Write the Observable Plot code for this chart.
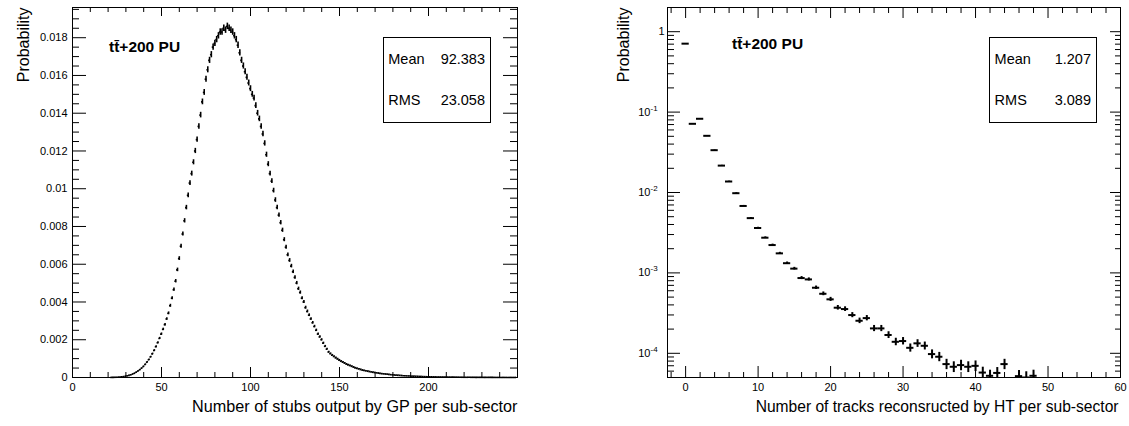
<!DOCTYPE html>
<html><head><meta charset="utf-8">
<script src="https://cdn.jsdelivr.net/npm/d3@7"></script>
<script src="https://cdn.jsdelivr.net/npm/@observablehq/plot@0.6"></script>
<style>
body{margin:0;background:#fff;}
#wrap{position:relative;width:1129px;height:426px;font-family:"Liberation Sans",Arial,Helvetica,sans-serif;background:#fff;}
.panel{position:absolute;top:0;}
.stats{position:absolute;border:1px solid #000;background:#fff;box-sizing:border-box;font-size:14.5px;color:#000;}
.row{position:absolute;display:flex;justify-content:space-between;line-height:14.5px;}
</style></head><body><div id="wrap"></div><script>
// ---------- data ----------
const entries = 630000; // histogram entries (statistical error bars)
const stubStart = 22;   // first filled bin of the left histogram
const stubProb = [
0.000005,0.000007,0.00001,0.000014,0.00002,0.000028,0.000038,0.00005,
0.000066,0.000086,0.00011,0.00014,0.00018,0.00022,0.00028,0.00034,0.00041,0.00049,
0.00058,0.00069,0.00081,0.00094,0.00109,0.00125,0.00143,0.00163,0.00184,0.00207,
0.0023,0.00255,0.0028,0.0031,0.0034,0.0038,0.0042,0.00465,0.0051,0.0057,
0.0063,0.00695,0.0076,0.0083,0.0090,0.00965,0.0103,0.0108,0.0114,0.0120,
0.0126,0.0133,0.0139,0.0146,0.0151,0.0158,0.0163,0.0168,0.0171,0.0175,
0.0177,0.0179,0.0181,0.0183,0.0183,0.0185,0.0184,0.0186,0.0185,0.0184,
0.0183,0.0181,0.0179,0.0176,0.0172,0.0168,0.0165,0.0162,0.0159,0.0156,
0.0153,0.0150,0.0148,0.0144,0.0140,0.0137,0.0133,0.0129,0.0124,0.0118,
0.0113,0.0108,0.0104,0.0099,0.0094,0.0090,0.0086,0.0082,0.0078,0.0073,
0.0069,0.0065,0.0062,0.0059,0.0056,0.0053,0.0050,0.0047,0.0045,0.0042,
0.0040,0.0037,0.0035,0.0033,0.0031,0.0029,0.0027,0.0025,0.0023,0.00215,
0.0020,0.00182,0.00165,0.0015,0.00135,0.00126,0.00118,0.00111,0.00104,0.00098,
0.00092,0.00086,0.00081,0.00076,0.00071,0.00067,0.00063,0.00059,0.00055,0.00051,
0.00048,0.00045,0.00042,0.00039,0.00037,0.00035,0.00033,0.00031,0.00029,0.000275,
0.00026,0.000245,0.00023,0.000215,0.0002,0.00019,0.00018,0.00017,0.00016,0.00015,
0.00014,0.00013,0.00012,0.000115,0.00011,0.0001,0.000095,0.00009,0.000085,0.00008,
0.000075,0.00007,0.000066,0.000062,0.000058,0.000055,0.000052,0.000049,0.000046,0.000043,
0.00004,0.000038,0.000036,0.000034,0.000032,0.00003,0.000028,0.000027,0.000025,0.000024,
0.000022,0.000021,0.00002,0.000019,0.000018,0.000017,0.000016,0.000015,0.000014,0.000013,
0.000012,0.000012,0.000011,0.00001,0.00001,0.000009,0.000009,0.000008,0.000008,0.000007,
0.000007,0.000006,0.000006,0.000006,0.000005,0.000005,0.000005,0.000004,0.000004,0.000004,
0.000004,0.000003,0.000003,0.000003,0.000003,0.000003,0.000002,0.000002,0.000002,0.000002
];
const trackBins = [0,1,2,3,4,5,6,7,8,9,10,11,12,13,14,15,16,17,18,19,20,21,22,23,24,25,26,27,28,29,30,31,32,33,34,35,36,37,38,39,40,41,42,43,44,46,47,48];
const trackProb = [0.71,0.0715,0.0826,0.0507,0.0336,0.0216,0.0137,0.0098,0.0068,0.0048,
0.00362,0.00274,0.00222,0.00175,0.00132,0.00113,0.000863,0.00083,0.000654,0.00055,
0.000469,0.000369,0.000355,0.000299,0.000254,0.000274,0.000204,0.000204,0.000169,0.000139,
0.000142,0.000117,0.000133,0.000124,0.0000978,0.0000906,0.0000734,0.000068,0.0000713,0.000068,
0.0000698,0.0000576,0.0000525,0.000057,0.0000734,0.000052,0.00005,0.0000525];

const sampleLabel = "tt\u0304+200 PU";
const statNames = ["Mean","RMS"];
const statsLeft = ["92.383","23.058"];
const statsRight = ["1.207","3.089"];
const xTitleLeft = "Number of stubs output by GP per sub-sector";
const xTitleRight = "Number of tracks reconsructed by HT per sub-sector";
const yTitle = "Probability";

const xMajorL = [0,50,100,150,200];
const yMajorL = [0,0.002,0.004,0.006,0.008,0.01,0.012,0.014,0.016,0.018];
const xMajorR = [0,10,20,30,40,50,60];
const yDecadesR = [1e-4,1e-3,1e-2,1e-1];
const yDecadeExp = ["-4","-3","-2","-1"];

// ---------- derived tables ----------
const stubs = stubProb.map((p,i)=>({bin: stubStart+i, p, err: Math.sqrt(p/entries)}));
const tracks = trackBins.map((b,i)=>({bin: b, p: trackProb[i], err: Math.sqrt(trackProb[i]/entries)}));
const xMinorL = d3.range(10,250,10).filter(v=>v%50!==0);
const yMinorL = d3.range(1,40).map(k=>k*0.0005).filter(v=>Math.round(v*10000)%20!==0);
const xMinorR = d3.range(-2,60,2).filter(v=>v%10!==0);
const yMinorR = [];
for (const e of [-5,-4,-3,-2,-1,0]) for (let k=2;k<=9;k++){const v=k*Math.pow(10,e); if(v>=5e-5 && v<=2) yMinorR.push(v);}
const yMajorR = [1e-4,1e-3,1e-2,1e-1,1];

const style = {fontFamily:'"Liberation Sans",Arial,Helvetica,sans-serif', fontSize:"11px", color:"#000", background:"transparent", overflow:"visible"};

function ticks(xs, ys, innerW, innerH, t){
  const m = [];
  m.push(Plot.tickX(xs.major,{x:d=>d, insetTop: innerH - t.xMaj, stroke:"#000"}));
  m.push(Plot.tickX(xs.minor,{x:d=>d, insetTop: innerH - t.xMin, stroke:"#000"}));
  m.push(Plot.tickX(xs.major,{x:d=>d, insetBottom: innerH - t.xMajTop, stroke:"#000"}));
  m.push(Plot.tickX(xs.minor,{x:d=>d, insetBottom: innerH - t.xMinTop, stroke:"#000"}));
  m.push(Plot.tickY(ys.major,{y:d=>d, insetRight: innerW - t.yMaj, stroke:"#000"}));
  m.push(Plot.tickY(ys.minor,{y:d=>d, insetRight: innerW - t.yMin, stroke:"#000"}));
  m.push(Plot.tickY(ys.major,{y:d=>d, insetLeft: innerW - t.yMajR, stroke:"#000"}));
  m.push(Plot.tickY(ys.minor,{y:d=>d, insetLeft: innerW - t.yMinR, stroke:"#000"}));
  return m;
}

const H = 426, MT = 7, MB = 49;
// ---------- left ----------
const WL = 564, MLL = 72, MRL = 47;
const left = Plot.plot({
  width: WL, height: H, marginLeft: MLL, marginRight: MRL, marginTop: MT, marginBottom: MB,
  style,
  x: {domain:[0,250], axis:null},
  y: {domain:[0,0.0196], axis:null},
  marks: [
    ...ticks({major:xMajorL, minor:xMinorL},{major:yMajorL, minor:yMinorL}, WL-MLL-MRL, H-MT-MB,
      {xMaj:10, xMin:5, xMajTop:9, xMinTop:5, yMaj:14, yMin:7, yMajR:14, yMinR:7}),
    Plot.ruleY(stubs,{y:"p", x1:d=>d.bin-0.5, x2:d=>d.bin+0.5, strokeWidth:1.6, stroke:"#000"}),
    Plot.ruleX(stubs,{x:"bin", y1:d=>d.p-d.err, y2:d=>d.p+d.err, strokeWidth:1.6, stroke:"#000"}),
    Plot.frame({stroke:"#000"}),
    Plot.axisX(xMajorL,{tickSize:0, tickPadding:6, label:null, fontSize:11, tickFormat:d=>String(d)}),
    Plot.axisY(yMajorL,{tickSize:0, tickPadding:5, label:null, fontSize:11, tickFormat:d=>d===0?"0":String(+d.toFixed(3))}),
    Plot.text([xTitleLeft],{frameAnchor:"bottom-right", textAnchor:"end", dy:34, fontSize:16.2}),
    Plot.text([yTitle],{frameAnchor:"top-left", textAnchor:"end", rotate:-90, dx:-55, fontSize:16}),
    Plot.text([sampleLabel],{frameAnchor:"top-left", textAnchor:"start", dx:36.5, dy:33.5, fontSize:15.5, fontWeight:"bold"})
  ]
});

// ---------- right ----------
const WR = 565, MLR = 103, MRR = 9;
const right = Plot.plot({
  width: WR, height: H, marginLeft: MLR, marginRight: MRR, marginTop: MT, marginBottom: MB,
  style,
  x: {domain:[-2.5,60], axis:null},
  y: {type:"log", domain:[5e-5,2], axis:null},
  marks: [
    ...ticks({major:xMajorR, minor:xMinorR},{major:yMajorR, minor:yMinorR}, WR-MLR-MRR, H-MT-MB,
      {xMaj:11, xMin:5, xMajTop:11, xMinTop:6, yMaj:13, yMin:7, yMajR:10, yMinR:5}),
    Plot.ruleY(tracks,{y:"p", x1:d=>d.bin-0.5, x2:d=>d.bin+0.5, strokeWidth:2, stroke:"#000", clip:true}),
    Plot.ruleX(tracks,{x:"bin", y1:d=>d.p-d.err, y2:d=>d.p+d.err, strokeWidth:2, stroke:"#000", clip:true}),
    Plot.frame({stroke:"#000"}),
    Plot.axisX(xMajorR,{tickSize:0, tickPadding:6, label:null, fontSize:11, tickFormat:d=>String(d)}),
    Plot.text(yDecadesR,{y:d=>d, frameAnchor:"left", text:()=>"10", textAnchor:"end", dx:-17, fontSize:11}),
    Plot.text(yDecadesR,{y:d=>d, frameAnchor:"left", text:(d,i)=>yDecadeExp[i], textAnchor:"start", dx:-17, dy:-4, fontSize:8}),
    Plot.text([1],{y:d=>d, frameAnchor:"left", text:()=>"1", textAnchor:"end", dx:-3, fontSize:11}),
    Plot.text([xTitleRight],{frameAnchor:"bottom-right", textAnchor:"end", dy:34, dx:-2, fontSize:15.6}),
    Plot.text([yTitle],{frameAnchor:"top-left", textAnchor:"end", rotate:-90, dx:-50, fontSize:16}),
    Plot.text([sampleLabel],{frameAnchor:"top-left", textAnchor:"start", dx:64.5, dy:30.5, fontSize:15.5, fontWeight:"bold"})
  ]
});

const wrap = document.getElementById("wrap");
left.classList.add("panel"); left.style.left = "0px";
right.classList.add("panel"); right.style.left = WL + "px";
wrap.appendChild(left); wrap.appendChild(right);

function statsBox(x, y, w, h, vals){
  const box = document.createElement("div");
  box.className = "stats";
  Object.assign(box.style,{left:x+"px", top:y+"px", width:w+"px", height:h+"px"});
  statNames.forEach((n,i)=>{
    const r = document.createElement("div");
    r.className = "row";
    Object.assign(r.style,{left:"4.6px", right:"4.7px", top:(i===0?14:55.7)+"px"});
    const a = document.createElement("span"); a.textContent = n;
    const b = document.createElement("span"); b.textContent = vals[i];
    r.appendChild(a); r.appendChild(b); box.appendChild(r);
  });
  wrap.appendChild(box);
}
statsBox(382.7, 36.7, 108, 86, statsLeft);
statsBox(989, 36.7, 107.7, 86, statsRight);
</script></body></html>
